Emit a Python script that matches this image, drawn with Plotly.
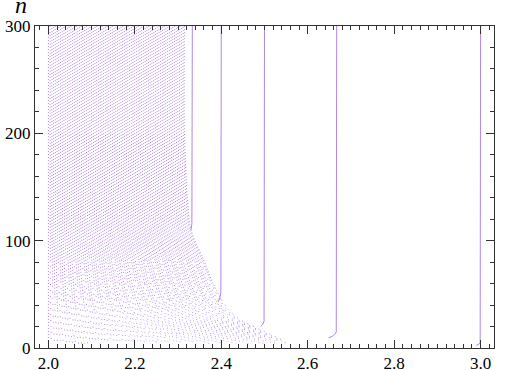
import plotly.graph_objects as go

# vertical families: limit x, and the points of each bottom hook
line_x = [3.0, 2.667, 2.5, 2.4, 2.333]
line_tail_x = [[3.0, 2.999, 2.996, 2.99],
               [2.667, 2.666, 2.663, 2.657, 2.648],
               [2.5, 2.499, 2.496, 2.491],
               [2.4, 2.399, 2.397, 2.393],
               [2.333, 2.332, 2.33]]
line_tail_n = [[7, 5, 3.5, 2.5],
               [18, 15, 13, 11, 9.5],
               [29, 25, 22, 20],
               [58, 52, 47, 43],
               [125, 116, 110]]

# cloud: x of each curve at n = 300
cloud_top_x = [2.004, 2.008, 2.012, 2.016, 2.020, 2.024, 2.028, 2.032, 2.036,
               2.040, 2.044, 2.048, 2.052, 2.056, 2.060, 2.064, 2.068, 2.072,
               2.076, 2.080, 2.084, 2.088, 2.092, 2.096, 2.100, 2.104, 2.108,
               2.112, 2.116, 2.120, 2.124, 2.128, 2.132, 2.136, 2.140, 2.144,
               2.148, 2.152, 2.156, 2.160, 2.164, 2.168, 2.172, 2.176, 2.180,
               2.184, 2.188, 2.192, 2.196, 2.200, 2.204, 2.208, 2.212, 2.216,
               2.220, 2.224, 2.228, 2.232, 2.236, 2.240, 2.244, 2.248, 2.252,
               2.256, 2.260, 2.264, 2.268, 2.272, 2.276, 2.280, 2.284, 2.288,
               2.292, 2.296, 2.300, 2.304, 2.308, 2.312, 2.315]
# how far the cloud spreads right going down (ratio of x-2 to its top value,
# read from the right edge of the cloud)
drift_n = [300, 200, 140, 110, 82, 60, 45, 35, 27, 21, 15, 11, 7, 4]
drift = [1.0, 1.0, 1.02, 1.048, 1.14, 1.21, 1.27, 1.33, 1.40, 1.49, 1.59,
         1.66, 1.72, 1.75]
# below these rows the dots thin out (cycled over the curves)
thin_from = [82, 60, 45, 35]
# where each curve starts above the frame (staggers the dot rows diagonally)
start_n = [300, 301, 302]
# sparse dot patterns for the lower part, in three phases
sparse_dash = ["1px,5px", "0px,2px,1px,3px", "0px,4px,1px,1px"]

line_col = "rgb(175,135,235)"
dot_col = "rgba(155,105,228,0.8)"
font_family = "Liberation Serif, Times New Roman, serif"

fig = go.Figure()

# x = 2 line
fig.add_trace(go.Scatter(x=[2.0, 2.0], y=[1, 300], mode="lines",
                         line=dict(color=line_col, width=1, dash="1px,2px")))

for i, a in enumerate(cloud_top_x):
    split = drift_n.index(thin_from[i % len(thin_from)])
    xs = [2 + (a - 2) * d for d in drift]
    ns = [start_n[i % len(start_n)]] + drift_n[1:]
    fig.add_trace(go.Scatter(x=xs[:split + 1], y=ns[:split + 1], mode="lines",
                             line=dict(color=dot_col, width=1,
                                       dash="1px,2px", shape="spline")))
    fig.add_trace(go.Scatter(x=xs[split:], y=ns[split:], mode="lines",
                             line=dict(color=dot_col, width=1,
                                       dash=sparse_dash[i % len(sparse_dash)],
                                       shape="spline")))

for lx, tx, tn in zip(line_x, line_tail_x, line_tail_n):
    fig.add_trace(go.Scatter(x=[lx] + tx, y=[300] + tn, mode="lines",
                             line=dict(color=line_col, width=1)))

axis_common = dict(showline=True, linecolor="#333", linewidth=1, mirror="allticks",
                   ticks="inside", ticklen=8, tickcolor="#333", showgrid=False,
                   zeroline=False, automargin=False,
                   tickfont=dict(family=font_family, size=17, color="black"))

fig.update_xaxes(range=[1.969, 3.031], tick0=2.0, dtick=0.2, tickformat=".1f",
                 minor=dict(ticks="inside", dtick=0.02, ticklen=4, tickcolor="#333"),
                 **axis_common)
fig.update_yaxes(range=[0, 300], tick0=0, dtick=100,
                 minor=dict(ticks="inside", dtick=20, ticklen=4, tickcolor="#333"),
                 **axis_common)

fig.add_annotation(text="<i>n</i>", xref="paper", yref="paper", x=-0.03, y=1.0,
                   xanchor="center", yanchor="bottom", yshift=6, showarrow=False,
                   font=dict(family=font_family, size=24, color="black"))

fig.update_layout(width=509, height=370, showlegend=False,
                  font=dict(family=font_family),
                  plot_bgcolor="white", paper_bgcolor="white",
                  margin=dict(l=35, r=15, t=26, b=22))

# drop the default 8px page margin so the figure fills the window
fig.write_html("out.html", config={"displayModeBar": False},
               post_script="document.body.style.margin='0';")
